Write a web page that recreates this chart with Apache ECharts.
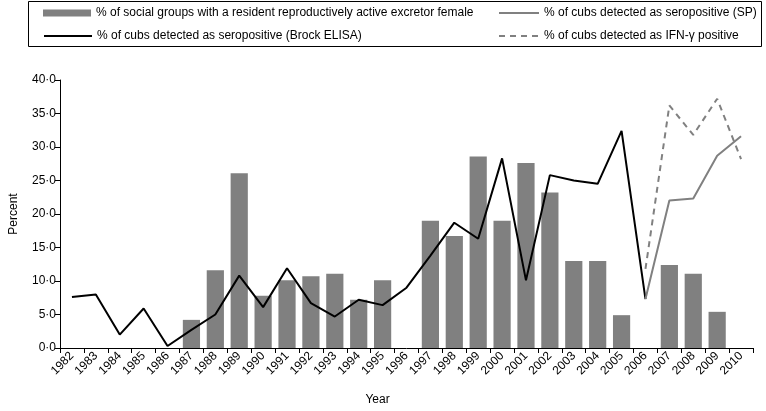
<!DOCTYPE html>
<html><head><meta charset="utf-8">
<script src="https://cdn.jsdelivr.net/npm/echarts@6/dist/echarts.min.js"></script>
<style>html,body{margin:0;padding:0;background:#fff}#c{width:766px;height:411px}</style>
</head><body><div id="c"></div>
<script>
const years = ['1982','1983','1984','1985','1986','1987','1988','1989','1990','1991','1992','1993','1994','1995','1996','1997','1998','1999','2000','2001','2002','2003','2004','2005','2006','2007','2008','2009','2010'];
const excretorGroups = [null,null,null,null,null,4.2,11.6,26.1,7.8,10.1,10.7,11.1,7.2,10.1,null,19.0,16.7,28.6,19.0,27.6,23.2,13.0,13.0,4.9,null,12.4,11.1,5.4,null];
const brockElisa = [7.6,8.0,2.0,5.9,0.3,2.7,5.0,10.8,6.1,11.9,6.7,4.7,7.2,6.4,9.0,13.8,18.7,16.3,28.3,10.1,25.8,25.0,24.5,32.4,7.3,null,null,null,null];
const statPak = [null,null,null,null,null,null,null,null,null,null,null,null,null,null,null,null,null,null,null,null,null,null,null,null,7.3,22.0,22.3,28.7,31.6];
const ifnGamma = [null,null,null,null,null,null,null,null,null,null,null,null,null,null,null,null,null,null,null,null,null,null,null,null,11.8,36.2,31.8,37.2,28.2];
const yTicks = [0,5,10,15,20,25,30,35,40];

const names = {
  bar: '% of social groups with a resident reproductively active excretor female',
  brock: '% of cubs detected as seropositive (Brock ELISA)',
  sp: '% of cubs detected as seropositive (SP)',
  ifn: '% of cubs detected as IFN-\u03b3 positive'
};
const FONT = 'Liberation Sans';
const legendText = {color:'#000', fontSize:12, fontFamily:FONT};
const hideSym = {color:'rgba(0,0,0,0)', borderWidth:0};
const chart = echarts.init(document.getElementById('c'));
chart.setOption({
  animation:false,
  textStyle:{fontFamily:FONT},
  graphic:[{type:'rect', shape:{x:28.5, y:1.5, width:733, height:45}, style:{fill:'none', stroke:'#000', lineWidth:1}}],
  legend:[
    {data:[names.bar], left:38, top:2, icon:'rect', itemWidth:48, itemHeight:7, textStyle:legendText},
    {data:[names.brock], left:38, top:25, itemWidth:48, itemHeight:14, itemStyle:hideSym, textStyle:legendText},
    {data:[names.sp], left:493, top:2, itemWidth:40, itemHeight:14, itemStyle:hideSym, textStyle:legendText},
    {data:[names.ifn], left:493, top:25, itemWidth:40, itemHeight:14, itemStyle:hideSym, textStyle:legendText}
  ],
  grid:{left:56, right:13, top:80, bottom:57, containLabel:false},
  xAxis:{
    type:'category', data:years, boundaryGap:true,
    name:'Year', nameLocation:'middle', nameGap:46,
    nameTextStyle:{color:'#000', fontSize:12, fontFamily:FONT, padding:[0,58,0,0]},
    axisLine:{lineStyle:{color:'#000', width:1}},
    axisTick:{show:true, length:5, lineStyle:{color:'#000'}},
    axisLabel:{rotate:45, interval:0, color:'#000', fontSize:12, fontFamily:FONT, margin:6}
  },
  yAxis:{
    type:'value', min:0, max:40, interval:5,
    name:'Percent', nameLocation:'middle', nameGap:40,
    nameTextStyle:{color:'#000', fontSize:12, fontFamily:FONT},
    axisLine:{show:true, lineStyle:{color:'#000', width:1}},
    axisTick:{show:true, length:5, lineStyle:{color:'#000'}},
    splitLine:{show:false},
    axisLabel:{color:'#000', fontSize:12, fontFamily:FONT, margin:4,
      formatter:v=>yTicks.includes(v)?v.toFixed(1).replace('.','\u00b7'):''}
  },
  series:[
    {name:names.bar, type:'bar', data:excretorGroups, barCategoryGap:'28%', itemStyle:{color:'#808080'}},
    {name:names.brock, type:'line', data:brockElisa, symbol:'none', lineStyle:{color:'#000', width:2}, itemStyle:{color:'#000'}},
    {name:names.sp, type:'line', data:statPak, symbol:'none', lineStyle:{color:'#808080', width:2}, itemStyle:{color:'#808080'}},
    {name:names.ifn, type:'line', data:ifnGamma, symbol:'none', lineStyle:{color:'#808080', width:2, type:[6,5]}, itemStyle:{color:'#808080'}}
  ]
});
</script></body></html>
